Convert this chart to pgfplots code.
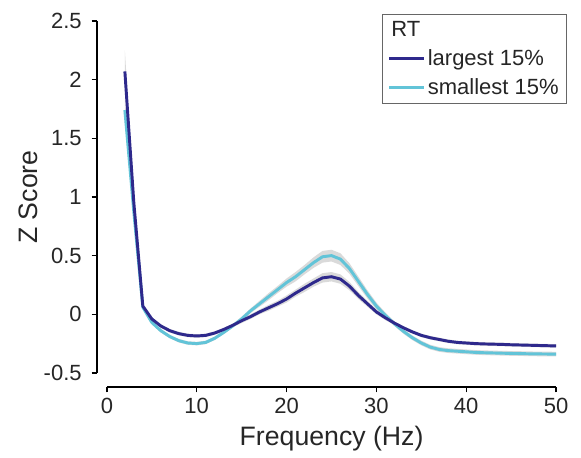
\documentclass[border=0pt]{standalone}
\usepackage{pgfplots}
\pgfplotsset{compat=1.18}
\usepackage{pgfplotstable}
\usepgfplotslibrary{fillbetween}
\usepackage{fontspec}
\setmainfont{Liberation Sans}

\definecolor{rtlarge}{RGB}{46,41,140}
\definecolor{rtsmall}{RGB}{98,196,216}
\definecolor{semgray}{RGB}{218,218,218}

% Mean z-scored power spectrum and its standard error, per RT group
\pgfplotstableread{
f   y      e
2   2.07   0.18
3   0.95   0.06
4   0.07   0.02
5   -0.04  0.015
6   -0.10  0.015
7   -0.14  0.015
8   -0.165 0.015
9   -0.18  0.015
10  -0.185 0.015
11  -0.18  0.015
12  -0.16  0.015
13  -0.13  0.015
14  -0.095 0.015
15  -0.055 0.02
16  -0.02  0.02
17  0.02   0.02
18  0.055  0.025
19  0.09   0.025
20  0.13   0.03
21  0.18   0.03
22  0.225  0.035
23  0.27   0.035
24  0.31   0.04
25  0.32   0.04
26  0.30   0.04
27  0.24   0.035
28  0.16   0.03
29  0.09   0.025
30  0.02   0.02
31  -0.03  0.02
32  -0.075 0.015
33  -0.115 0.015
34  -0.15  0.015
35  -0.18  0.015
36  -0.20  0.015
37  -0.215 0.015
38  -0.23  0.015
39  -0.24  0.015
40  -0.245 0.015
41  -0.25  0.015
42  -0.253 0.015
43  -0.255 0.015
44  -0.257 0.015
45  -0.26  0.015
46  -0.262 0.015
47  -0.264 0.015
48  -0.266 0.015
49  -0.268 0.015
50  -0.27  0.015
}\largest

\pgfplotstableread{
f   y      e
2   1.74   0.10
3   0.87   0.05
4   0.06   0.02
5   -0.07  0.015
6   -0.14  0.015
7   -0.19  0.015
8   -0.225 0.015
9   -0.245 0.015
10  -0.25  0.015
11  -0.24  0.015
12  -0.205 0.015
13  -0.155 0.015
14  -0.10  0.015
15  -0.04  0.02
16  0.03   0.02
17  0.09   0.025
18  0.15   0.03
19  0.21   0.03
20  0.27   0.035
21  0.32   0.04
22  0.38   0.04
23  0.44   0.045
24  0.49   0.05
25  0.50   0.05
26  0.47   0.05
27  0.39   0.045
28  0.28   0.04
29  0.17   0.035
30  0.07   0.03
31  -0.01  0.025
32  -0.08  0.02
33  -0.145 0.02
34  -0.20  0.02
35  -0.245 0.02
36  -0.28  0.02
37  -0.30  0.02
38  -0.31  0.02
39  -0.315 0.02
40  -0.32  0.02
41  -0.325 0.02
42  -0.328 0.02
43  -0.33  0.02
44  -0.332 0.02
45  -0.334 0.02
46  -0.335 0.02
47  -0.337 0.02
48  -0.338 0.02
49  -0.339 0.02
50  -0.34  0.02
}\smallest

\begin{document}
\begin{tikzpicture}
\begin{axis}[
  scale only axis,
  width=344.25pt, height=274.5pt,
  xmin=-1.1, xmax=50, ymin=-0.62, ymax=2.5,
  axis x line*=bottom, axis y line*=left,
  axis line style={draw=none},
  xtick={0,10,...,50}, ytick={-0.5,0,...,2.5},
  tick align=outside, major tick length=4pt,
  tick style={black, line width=1pt},
  /pgf/number format/assume math mode=true,
  ticklabel style={font=\fontsize{16.5}{19}\selectfont, text=black!85},
  yticklabel style={xshift=-4pt},
  xticklabel style={yshift=-1pt},
  xlabel={Frequency (Hz)}, ylabel={Z Score},
  label style={font=\fontsize{20}{23}\selectfont, text=black!85},
  xlabel style={at={(axis description cs:0.511,-0.142)}, anchor=center},
  ylabel style={at={(axis description cs:-0.150,0.519)}, anchor=center},
  clip=false,
  legend style={at={(axis description cs:1.024,1.019)}, anchor=north east,
    draw=black!60, line width=0.6pt, font=\fontsize{16.5}{19}\selectfont,
    text=black!85, inner xsep=4pt, inner ysep=3pt, row sep=4.5pt},
  legend cell align=left,
  legend image code/.code={\draw[#1] (0pt,0pt) -- (26pt,0pt);},
]
% standard-error bands
\addplot[name path=lu, draw=none, forget plot] table[x=f, y expr=\thisrow{y}+\thisrow{e}] {\largest};
\addplot[name path=ll, draw=none, forget plot] table[x=f, y expr=\thisrow{y}-\thisrow{e}] {\largest};
\addplot[semgray, forget plot] fill between[of=lu and ll];
\addplot[name path=su, draw=none, forget plot] table[x=f, y expr=\thisrow{y}+\thisrow{e}] {\smallest};
\addplot[name path=sl, draw=none, forget plot] table[x=f, y expr=\thisrow{y}-\thisrow{e}] {\smallest};
\addplot[semgray, forget plot] fill between[of=su and sl];

% group means
\addplot[rtsmall, line width=2.2pt, forget plot] table[x=f, y=y] {\smallest};
\addplot[rtlarge, line width=2.2pt, forget plot] table[x=f, y=y] {\largest};

% axis spines
\draw[black, line width=1.2pt] (axis cs:0,-0.62) -- (axis cs:50,-0.62);
\draw[black, line width=1.2pt] (axis cs:-1.1,-0.5) -- (axis cs:-1.1,2.5);

\addlegendimage{empty legend}
\addlegendentry{\hspace*{-30pt}RT}
\addlegendimage{rtlarge, line width=2.2pt}
\addlegendentry{largest 15\%}
\addlegendimage{rtsmall, line width=2.2pt}
\addlegendentry{smallest 15\%}

\coordinate (bl) at (axis cs:-11.9,-1.217);
\coordinate (tr) at (axis cs:52.78,2.679);
\end{axis}
\pgfresetboundingbox
\useasboundingbox (bl) rectangle (tr);
\end{tikzpicture}
\end{document}
